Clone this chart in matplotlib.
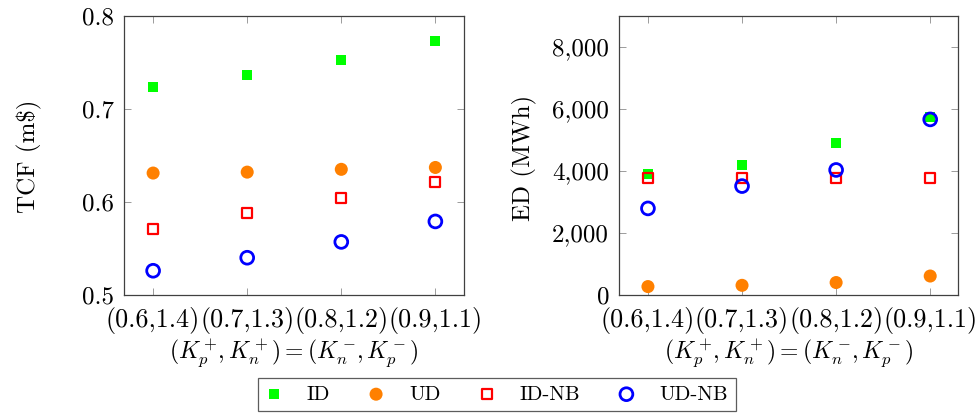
import numpy as np
import matplotlib.pyplot as plt
from matplotlib.ticker import FuncFormatter

plt.rcParams["font.family"] = "serif"
plt.rcParams["font.serif"] = ["cmr10"]
plt.rcParams["mathtext.fontset"] = "cm"
plt.rcParams["axes.formatter.use_mathtext"] = True

# gain pairs on the x axis
gains = ["(0.6,1.4)", "(0.7,1.3)", "(0.8,1.2)", "(0.9,1.1)"]

# total cost function (m$)
tcf_id = [0.723, 0.736, 0.753, 0.773]
tcf_ud = [0.631, 0.632, 0.635, 0.637]
tcf_id_nb = [0.571, 0.588, 0.604, 0.621]
tcf_ud_nb = [0.526, 0.540, 0.557, 0.579]

# energy deviation (MWh)
ed_id = [3890, 4200, 4890, 5750]
ed_ud = [270, 310, 400, 610]
ed_id_nb = [3760, 3780, 3760, 3770]
ed_ud_nb = [2790, 3510, 4030, 5660]

series = ["ID", "UD", "ID-NB", "UD-NB"]

styles = {
    "ID": dict(marker="s", s=52, color=(0, 1, 0), edgecolors="none"),
    "UD": dict(marker="o", s=88, color=(1, 0.5, 0), edgecolors="none"),
    "ID-NB": dict(marker="s", s=50, facecolors="none", edgecolors="red", linewidths=1.6),
    "UD-NB": dict(marker="o", s=85, facecolors="none", edgecolors="blue", linewidths=2.0),
}

fig = plt.figure(figsize=(9.76, 4.16), dpi=100)
ax1 = fig.add_axes([0.127, 0.291, 0.348, 0.671])
ax2 = fig.add_axes([0.634, 0.291, 0.348, 0.671])

x = np.arange(len(gains))


def setup(ax):
    ax.set_xlim(-0.31, 3.3)
    ax.set_xticks(x)
    ax.set_xticklabels(gains)
    ax.tick_params(direction="in", top=True, right=True, length=5, width=0.6,
                   color="0.55", labelsize=18, pad=7)
    ax.tick_params(axis="x", labelsize=18.8, pad=8.5)
    for sp in ax.spines.values():
        sp.set_color("0.25")
        sp.set_linewidth(0.9)
    ax.set_xlabel(r"$(K_p^+\!,K_n^+) = (K_n^-\!,K_p^-)$", fontsize=17)
    ax.xaxis.set_label_coords(0.5, -0.152)


handles = []
for name, vals in zip(series, [tcf_id, tcf_ud, tcf_id_nb, tcf_ud_nb]):
    h = ax1.scatter(x, vals, label=name, zorder=3, **styles[name])
    handles.append(h)
setup(ax1)
ax1.set_ylim(0.5, 0.8)
ax1.set_yticks([0.5, 0.6, 0.7, 0.8])
ax1.set_yticklabels(["0.5", "0.6", "0.7", "0.8"])
ax1.set_ylabel("TCF (m\\$)", fontsize=18)
ax1.yaxis.set_label_coords(-0.241, 0.496)

for name, vals in zip(series, [ed_id, ed_ud, ed_id_nb, ed_ud_nb]):
    ax2.scatter(x, vals, zorder=3, **styles[name])
setup(ax2)
ax2.set_ylim(0, 9000)
ax2.set_yticks([0, 2000, 4000, 6000, 8000])
ax2.yaxis.set_major_formatter(FuncFormatter(lambda v, p: f"{v:,.0f}"))
ax2.set_ylabel("ED (MWh)", fontsize=18)
ax2.yaxis.set_label_coords(-0.241, 0.49)

leg = fig.legend(handles=handles, labels=series, loc="center",
                 bbox_to_anchor=(0.509, 0.052), ncol=4, fontsize=15,
                 frameon=True, fancybox=False, edgecolor="0.2",
                 handlelength=0.8, handletextpad=1.2, columnspacing=1.8,
                 borderpad=0.35, scatterpoints=1)
leg.get_frame().set_linewidth(0.9)

fig.savefig("out.png", dpi=100)
